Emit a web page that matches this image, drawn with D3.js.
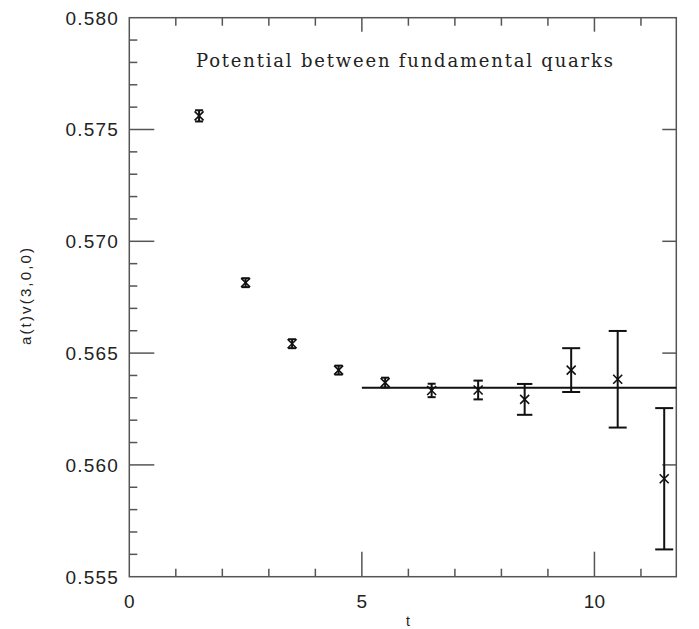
<!DOCTYPE html>
<html lang="en">
<head>
    <meta charset="UTF-8">
    <title>Potential between fundamental quarks</title>
    <script src="https://d3js.org/d3.v7.min.js"></script>
    <style>
        body { margin: 0; background: #fff; }
        svg { display: block; }
        .lbl { font-family: "Liberation Sans", Arial, sans-serif; fill: #222; }
    </style>
</head>
<body>
<div id="chart"></div>
<script>
    // data
    const tValues = [1.5, 2.5, 3.5, 4.5, 5.5, 6.5, 7.5, 8.5, 9.5, 10.5, 11.5];
    const potValues = [0.57561, 0.56815, 0.56542, 0.56424, 0.56368, 0.56333, 0.56335, 0.56293, 0.56424, 0.56383, 0.55938];
    const errValues = [0.00025, 0.0002, 0.0002, 0.0002, 0.00022, 0.0003, 0.00042, 0.00069, 0.00098, 0.00216, 0.00316];
    const fitValue = 0.56345;
    const fitRange = [5, 11.76];
    const xTickLabels = [0, 5, 10];
    const yTickLabels = [0.555, 0.560, 0.565, 0.570, 0.575, 0.580];

    const width = 699, height = 629;
    const plotL = 129.3, plotR = 676.3, plotT = 17.7, plotB = 576.7;

    const svg = d3.select("#chart").append("svg")
        .attr("width", width)
        .attr("height", height);

    const x = d3.scaleLinear().domain([0, 11.76]).range([plotL, plotR]);
    const y = d3.scaleLinear().domain([0.555, 0.580]).range([plotB, plotT]);

    const axisColor = "#555";

    // frame
    svg.append("rect")
        .attr("x", plotL).attr("y", plotT)
        .attr("width", plotR - plotL).attr("height", plotB - plotT)
        .attr("fill", "none").attr("stroke", axisColor).attr("stroke-width", 1.5);

    const ticks = svg.append("g").attr("stroke", axisColor).attr("stroke-width", 1.5);

    // x ticks, bottom and top
    d3.range(1, 12).forEach(t => {
        const major = t % 5 === 0;
        ticks.append("line")
            .attr("x1", x(t)).attr("x2", x(t))
            .attr("y1", plotB).attr("y2", plotB - (major ? 25 : 8));
        ticks.append("line")
            .attr("x1", x(t)).attr("x2", x(t))
            .attr("y1", plotT).attr("y2", plotT + (major ? 14 : 8));
    });

    // y ticks: left has minors, right only majors
    d3.range(1, 25).forEach(i => {
        const v = 0.555 + i * 0.001;
        const major = i % 5 === 0;
        ticks.append("line")
            .attr("x1", plotL).attr("x2", plotL + (major ? 25 : 8))
            .attr("y1", y(v)).attr("y2", y(v));
        if (major) {
            ticks.append("line")
                .attr("x1", plotR).attr("x2", plotR - 14)
                .attr("y1", y(v)).attr("y2", y(v));
        }
    });

    // tick labels
    svg.append("g").selectAll("text")
        .data(xTickLabels)
        .enter().append("text")
        .attr("class", "lbl")
        .attr("x", d => x(d))
        .attr("y", 608)
        .attr("text-anchor", "middle")
        .attr("font-size", 19)
        .text(d => d);

    svg.append("g").selectAll("text")
        .data(yTickLabels)
        .enter().append("text")
        .attr("class", "lbl")
        .attr("x", 119)
        .attr("y", d => y(d) + 6.8)
        .attr("text-anchor", "end")
        .attr("font-size", 19)
        .style("letter-spacing", "1.2px")
        .text(d => d3.format(".3f")(d));

    // axis titles
    svg.append("text")
        .attr("class", "lbl")
        .attr("x", 408).attr("y", 626)
        .attr("text-anchor", "middle")
        .attr("font-size", 14)
        .text("t");

    svg.append("text")
        .attr("class", "lbl")
        .attr("transform", "translate(31,345) rotate(-90)")
        .attr("font-size", 15)
        .attr("textLength", 97)
        .attr("lengthAdjust", "spacing")
        .text("a(t)v(3,0,0)");

    // title
    svg.append("text")
        .attr("x", 196).attr("y", 67)
        .attr("font-family", "'DejaVu Serif', serif")
        .attr("font-size", 18)
        .attr("fill", "#222")
        .attr("textLength", 417)
        .attr("lengthAdjust", "spacing")
        .text("Potential between fundamental quarks");

    // fit line
    svg.append("line")
        .attr("x1", x(fitRange[0])).attr("x2", x(fitRange[1]))
        .attr("y1", y(fitValue)).attr("y2", y(fitValue))
        .attr("stroke", "#111").attr("stroke-width", 2);

    const points = tValues.map((t, i) => ({ t: t, v: potValues[i], e: errValues[i] }));

    const pts = svg.append("g")
        .attr("stroke", "#111")
        .attr("stroke-width", 2)
        .attr("fill", "none");

    const pg = pts.selectAll("g")
        .data(points)
        .enter().append("g");

    // error bars
    pg.append("line")
        .attr("x1", d => x(d.t)).attr("x2", d => x(d.t))
        .attr("y1", d => y(d.v + d.e)).attr("y2", d => y(d.v - d.e));

    const capHalf = d => Math.max(4, Math.min(9, (y(d.v - d.e) - y(d.v + d.e)) / 4));
    pg.append("line")
        .attr("x1", d => x(d.t) - capHalf(d)).attr("x2", d => x(d.t) + capHalf(d))
        .attr("y1", d => y(d.v + d.e)).attr("y2", d => y(d.v + d.e));
    pg.append("line")
        .attr("x1", d => x(d.t) - capHalf(d)).attr("x2", d => x(d.t) + capHalf(d))
        .attr("y1", d => y(d.v - d.e)).attr("y2", d => y(d.v - d.e));

    // x markers
    const m = 4.5;
    pg.append("path")
        .attr("stroke-width", 1.6)
        .attr("d", d => {
            const cx = x(d.t), cy = y(d.v);
            return `M${cx - m},${cy - m}L${cx + m},${cy + m}M${cx - m},${cy + m}L${cx + m},${cy - m}`;
        });
</script>
</body>
</html>
